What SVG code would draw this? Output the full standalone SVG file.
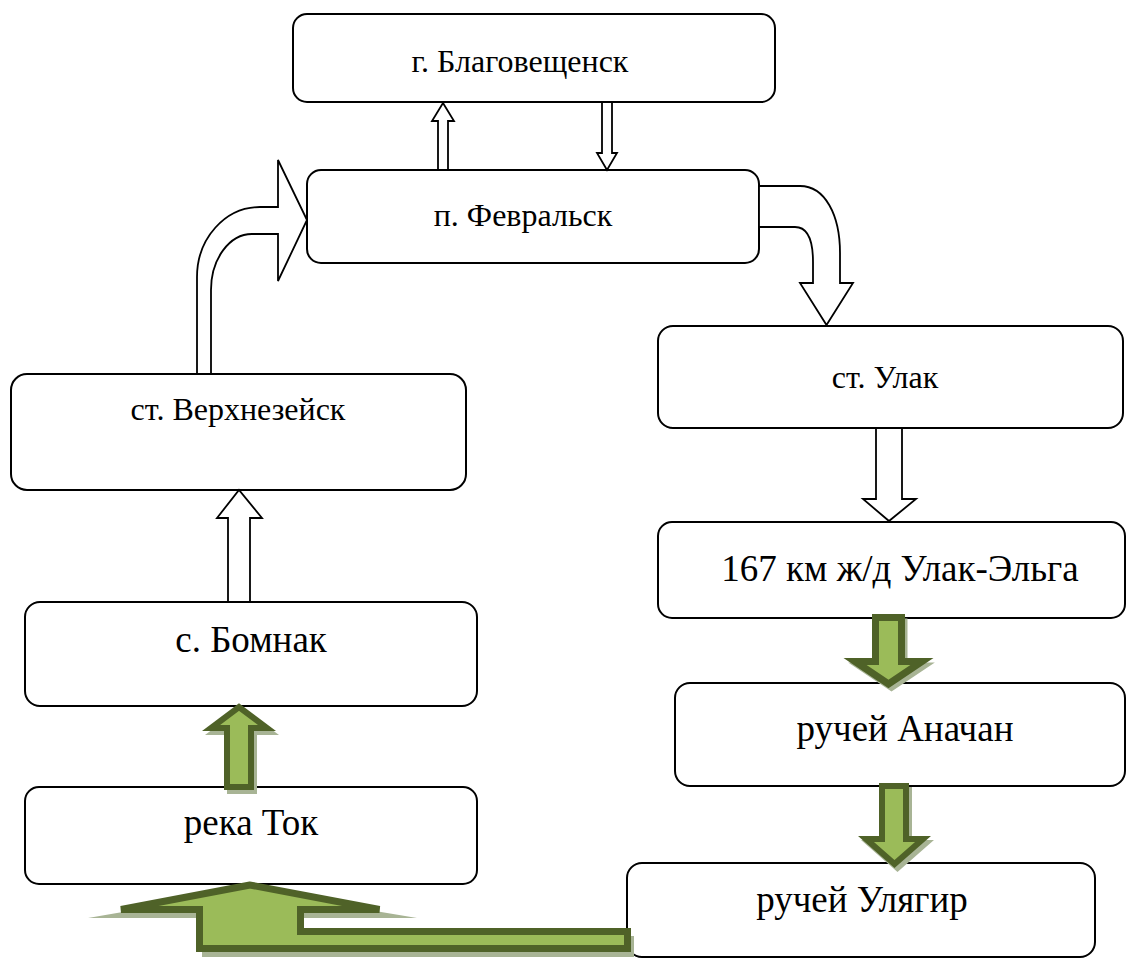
<svg xmlns="http://www.w3.org/2000/svg" width="1127" height="960" viewBox="0 0 1127 960">
<style>
.box{fill:#fff;stroke:#000;stroke-width:2}
.wa{fill:#fff;stroke:#000;stroke-width:1.8;stroke-linejoin:miter}
.ga{fill:#9BBB59;stroke:#4F6228;stroke-width:6;stroke-linejoin:miter}
.gs{fill:#A8B495;stroke:#A8B495;stroke-width:6}
</style>
<rect width="1127" height="960" fill="#fff"/>
<g font-family="Liberation Serif, DejaVu Serif, serif" text-anchor="middle" fill="#000">
<g id="node-blagoveshchensk">
<rect class="box" x="293" y="14" width="482" height="88" rx="14"/>
<text font-family="Liberation Serif, DejaVu Serif, serif" font-size="32" x="520" y="72">г. Благовещенск</text>
</g>
<g id="node-fevralsk">
<rect class="box" x="307" y="170" width="452" height="93" rx="14"/>
<text font-family="Liberation Serif, DejaVu Serif, serif" font-size="32" x="523" y="226">п. Февральск</text>
</g>
<g id="node-verkhnezeysk">
<rect class="box" x="11" y="374" width="455" height="116" rx="16"/>
<text font-family="Liberation Serif, DejaVu Serif, serif" font-size="32" x="238" y="420">ст. Верхнезейск</text>
</g>
<g id="node-bomnak">
<rect class="box" x="25" y="602" width="452" height="104" rx="15"/>
<text font-family="Liberation Serif, DejaVu Serif, serif" font-size="37" x="251" y="652">с. Бомнак</text>
</g>
<g id="node-tok">
<rect class="box" x="25" y="787" width="452" height="97" rx="14"/>
<text font-family="Liberation Serif, DejaVu Serif, serif" font-size="37" x="251" y="835">река Ток</text>
</g>
<g id="node-ulak">
<rect class="box" x="658" y="326" width="465" height="102" rx="15"/>
<text font-family="Liberation Serif, DejaVu Serif, serif" font-size="32" x="885" y="388">ст. Улак</text>
</g>
<g id="node-167km">
<rect class="box" x="658" y="522" width="467" height="96" rx="14"/>
<text font-family="Liberation Serif, DejaVu Serif, serif" font-size="37" x="900" y="581">167 км ж/д Улак-Эльга</text>
</g>
<g id="node-anachan">
<rect class="box" x="675" y="683" width="450" height="103" rx="15"/>
<text font-family="Liberation Serif, DejaVu Serif, serif" font-size="37" x="905" y="741">ручей Аначан</text>
</g>
<g id="node-ulyagir">
<rect class="box" x="627" y="863" width="468" height="94" rx="15"/>
<text font-family="Liberation Serif, DejaVu Serif, serif" font-size="37" x="862" y="912">ручей Улягир</text>
</g>
</g>
<g id="connectors">
<path class="wa" d="M438,170 L438,121 L432,121 L443,103 L454,121 L448,121 L448,170 Z"/>
<path class="wa" d="M602,102 L602,153 L597,153 L607,170 L617,153 L612,153 L612,102 Z"/>
<path class="wa" d="M197,374 L197,277 A63,70 0 0 1 260,207 L278,207 L278,160 L307,220 L278,281 L278,234 L252,234 A41,56 0 0 0 211,290 L211,374 Z"/>
<path class="wa" d="M759,186 L800,186 C825,186 840,215 840,253 L840,283 L853,283 L826.5,325 L800,283 L813,283 L813,262 C813,240 808,227 795,227 L759,227 Z"/>
<path class="wa" d="M228,602 L228,518 L217,518 L239,490 L262,518 L250,518 L250,602 Z"/>
<path class="wa" d="M876,428 L876,499 L863,499 L889,521 L916,499 L902,499 L902,428 Z"/>
<path class="gs" transform="translate(3,4)" d="M227,787 L227,728 L211,728 L239,707 L267,728 L251,728 L251,787 Z"/>
<path class="ga" d="M227,787 L227,728 L211,728 L239,707 L267,728 L251,728 L251,787 Z"/>
<path class="gs" transform="translate(3,4)" d="M875.5,617.5 L901.5,617.5 L901.5,661.5 L922,661.5 L888.5,684 L855,661.5 L875.5,661.5 Z"/>
<path class="ga" style="stroke-width:7" d="M875.5,617.5 L901.5,617.5 L901.5,661.5 L922,661.5 L888.5,684 L855,661.5 L875.5,661.5 Z"/>
<path class="gs" transform="translate(3,4)" d="M882,786 L906,786 L906,839 L923,839 L894.5,864 L866,839 L882,839 Z"/>
<path class="ga" d="M882,786 L906,786 L906,839 L923,839 L894.5,864 L866,839 L882,839 Z"/>
<path fill="#A8B495" d="M250,890 L88,918 L202,918 L202,957 L634,957 L634,936 L304,936 L304,918 L417,918 Z"/>
<path class="ga" style="stroke-width:7" d="M250,885 L121,909.5 L199.5,909.5 L199.5,948.5 L627.5,948.5 L627.5,931.5 L300.5,931.5 L300.5,909.5 L379.5,909.5 Z"/>
</g>
</svg>
